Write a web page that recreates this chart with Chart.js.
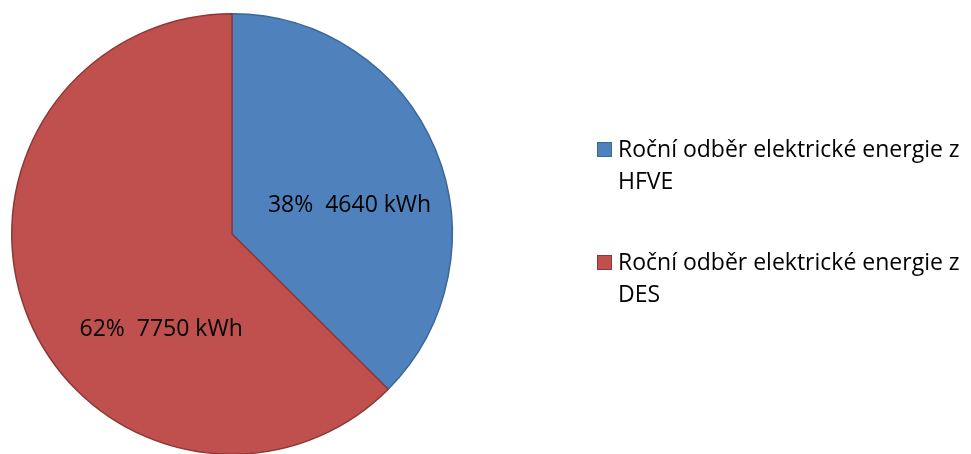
<!DOCTYPE html>
<html>
<head>
<meta charset="utf-8">
<script src="https://cdn.jsdelivr.net/npm/chart.js@4.4.1/dist/chart.umd.min.js"></script>
<style>
  html, body { margin: 0; padding: 0; background: #ffffff; overflow: hidden; }
  #wrap { width: 971px; height: 462px; }
</style>
</head>
<body>
<div id="wrap"><canvas id="c" width="971" height="462"></canvas></div>
<script>
// ---- data ----
const categories = [
  ["Roční odběr elektrické energie z", "HFVE"],
  ["Roční odběr elektrické energie z", "DES"]
];
const values = [4640, 7750];
const percentLabels = ["38%", "62%"];
const unit = "kWh";

// ---- style ----
const fillColors = ["#4F81BD", "#C0504D"];
const borderColors = ["#3A6898", "#8C3836"];
const FONT = "'Open Sans', Lato, sans-serif";
const LEGEND_SIZE = 23;
const LABEL_SIZE = 23;

// label anchor: fraction along the slice's angle and fraction of radius
const labelAnchors = [ {a: 0.567, r: 0.549}, {a: 0.363, r: 0.54} ];

const overlayPlugin = {
  id: 'overlay',
  afterDraw(chart) {
    const ctx = chart.ctx;
    const meta = chart.getDatasetMeta(0);
    ctx.save();
    ctx.font = LABEL_SIZE + "px " + FONT;
    ctx.fillStyle = "#000000";
    ctx.textAlign = "center";
    ctx.textBaseline = "middle";
    meta.data.forEach((arc, i) => {
      const p = arc.getProps(['x','y','startAngle','endAngle','outerRadius'], true);
      const anc = labelAnchors[i];
      const ang = p.startAngle + anc.a * (p.endAngle - p.startAngle);
      const rr = anc.r * p.outerRadius;
      const x = p.x + Math.cos(ang) * rr;
      const y = p.y + Math.sin(ang) * rr;
      ctx.fillText(percentLabels[i] + "  " + values[i] + " " + unit, x, y);
    });

    // legend
    const lx = 597, box = 15, textX = 618, lineH = 31.5;
    const itemBaselines = [157, 270];
    ctx.font = LEGEND_SIZE + "px " + FONT;
    ctx.textAlign = "left";
    ctx.textBaseline = "alphabetic";
    categories.forEach((lines, i) => {
      const base = itemBaselines[i];
      ctx.fillStyle = fillColors[i];
      ctx.fillRect(lx, base - box, box, box);
      ctx.strokeStyle = borderColors[i];
      ctx.lineWidth = 1;
      ctx.strokeRect(lx + 0.5, base - box + 0.5, box - 1, box - 1);
      ctx.fillStyle = "#000000";
      lines.forEach((t, j) => ctx.fillText(t, textX, base + j * lineH));
    });
    ctx.restore();
  }
};

new Chart(document.getElementById('c'), {
  type: 'pie',
  data: {
    labels: categories.map(l => l.join(" ")),
    datasets: [{
      data: values,
      backgroundColor: fillColors,
      borderColor: borderColors,
      borderWidth: 1.5
    }]
  },
  options: {
    responsive: false,
    animation: false,
    layout: { padding: { left: 11, top: 13, right: 518, bottom: 7 } },
    plugins: {
      legend: { display: false },
      tooltip: { enabled: false }
    }
  },
  plugins: [overlayPlugin]
});
</script>
</body>
</html>
